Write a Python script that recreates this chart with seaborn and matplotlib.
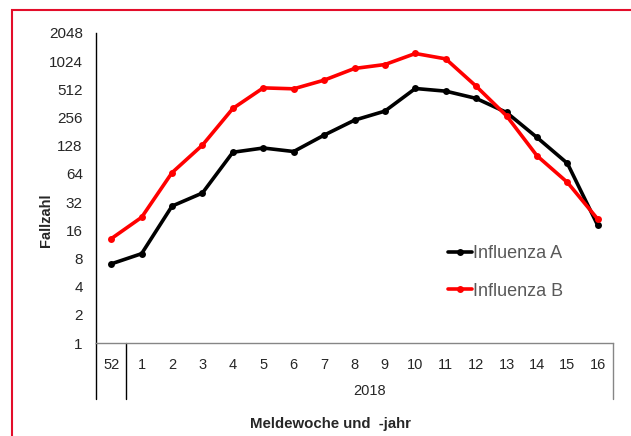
import numpy as np
import pandas as pd
import matplotlib
matplotlib.use("Agg")
import matplotlib.pyplot as plt
from matplotlib.lines import Line2D
from matplotlib.patches import Rectangle
import seaborn as sb

weeks = ["52", "1", "2", "3", "4", "5", "6", "7", "8", "9", "10", "11", "12", "13", "14", "15", "16"]
influenza_a = [7, 9, 29, 40, 109, 121, 111, 166, 240, 300, 523, 490, 410, 290, 157, 83, 18]
influenza_b = [13, 22, 66, 130, 320, 531, 519, 642, 856, 943, 1237, 1084, 553, 267, 100, 52, 21]
year_label = "2018"
y_ticks = [1, 2, 4, 8, 16, 32, 64, 128, 256, 512, 1024, 2048]

sb.set_style("white")
plt.rcParams["font.family"] = ["Liberation Sans", "DejaVu Sans"]

df = pd.DataFrame({
    "pos": list(range(len(weeks))) * 2,
    "value": influenza_a + influenza_b,
    "series": ["Influenza A"] * len(weeks) + ["Influenza B"] * len(weeks),
})

fig = plt.figure(figsize=(6.31, 4.36), dpi=100)
ax = fig.add_axes([96 / 631, 1 - 343 / 436, (613 - 96) / 631, (343 - 33) / 436])

sb.lineplot(data=df, x="pos", y="value", hue="series", palette={"Influenza A": "black", "Influenza B": "#ff0000"},
            marker="o", markersize=5, markeredgewidth=0, linewidth=2.6, ax=ax)

ax.set_yscale("log", base=2)
ax.set_ylim(1, 2048)
ax.set_yticks(y_ticks)
ax.set_yticklabels([str(t) for t in y_ticks], fontsize=11)
ax.minorticks_off()
ax.set_xlim(-0.5, len(weeks) - 0.5)
ax.set_xticks(range(len(weeks)))
ax.set_xticklabels(weeks, fontsize=10.5)
ax.tick_params(axis="y", length=0, pad=9.5)
ax.tick_params(axis="x", length=0, pad=11)
ax.set_xlabel("")
ax.set_ylabel("")

for side in ["top", "right"]:
    ax.spines[side].set_visible(False)
ax.spines["left"].set_color("black")
ax.spines["left"].set_linewidth(1)
ax.spines["bottom"].set_color("#868686")
ax.spines["bottom"].set_linewidth(1)

# category group separators below the axis
trans = ax.get_xaxis_transform()
depth = -(399 - 343) / 310
for xpos, col in [(-0.5, "black"), (0.5, "black"), (len(weeks) - 0.5, "#868686")]:
    ax.add_line(Line2D([xpos, xpos], [0, depth], transform=trans, color=col, lw=1, clip_on=False))
ax.text((0.5 + len(weeks) - 0.5) / 2, -(391 - 343) / 310, year_label, transform=trans,
        ha="center", va="center", fontsize=10.5)

leg = ax.legend(loc="upper left", bbox_to_anchor=((439 - 96) / 517, (343 - 236) / 310), frameon=False,
                fontsize=13, handlelength=1.3, handletextpad=0.1, labelspacing=1.15, borderpad=0)
for txt in leg.get_texts():
    txt.set_color("#595959")

fig.text(46 / 631, 1 - 220 / 436, "Fallzahl", rotation=90, ha="center", va="center", fontsize=10.5, fontweight="bold")
fig.text(330 / 631, 1 - 424 / 436, "Meldewoche und  -jahr", ha="center", va="center", fontsize=10.8, fontweight="bold")

fig.patches.append(Rectangle((12 / 631, -0.1), 1.2, 1 - 10 / 436 + 0.1, transform=fig.transFigure,
                             fill=False, edgecolor="#e30d2a", lw=1.5))

fig.savefig("out.png", dpi=100)
